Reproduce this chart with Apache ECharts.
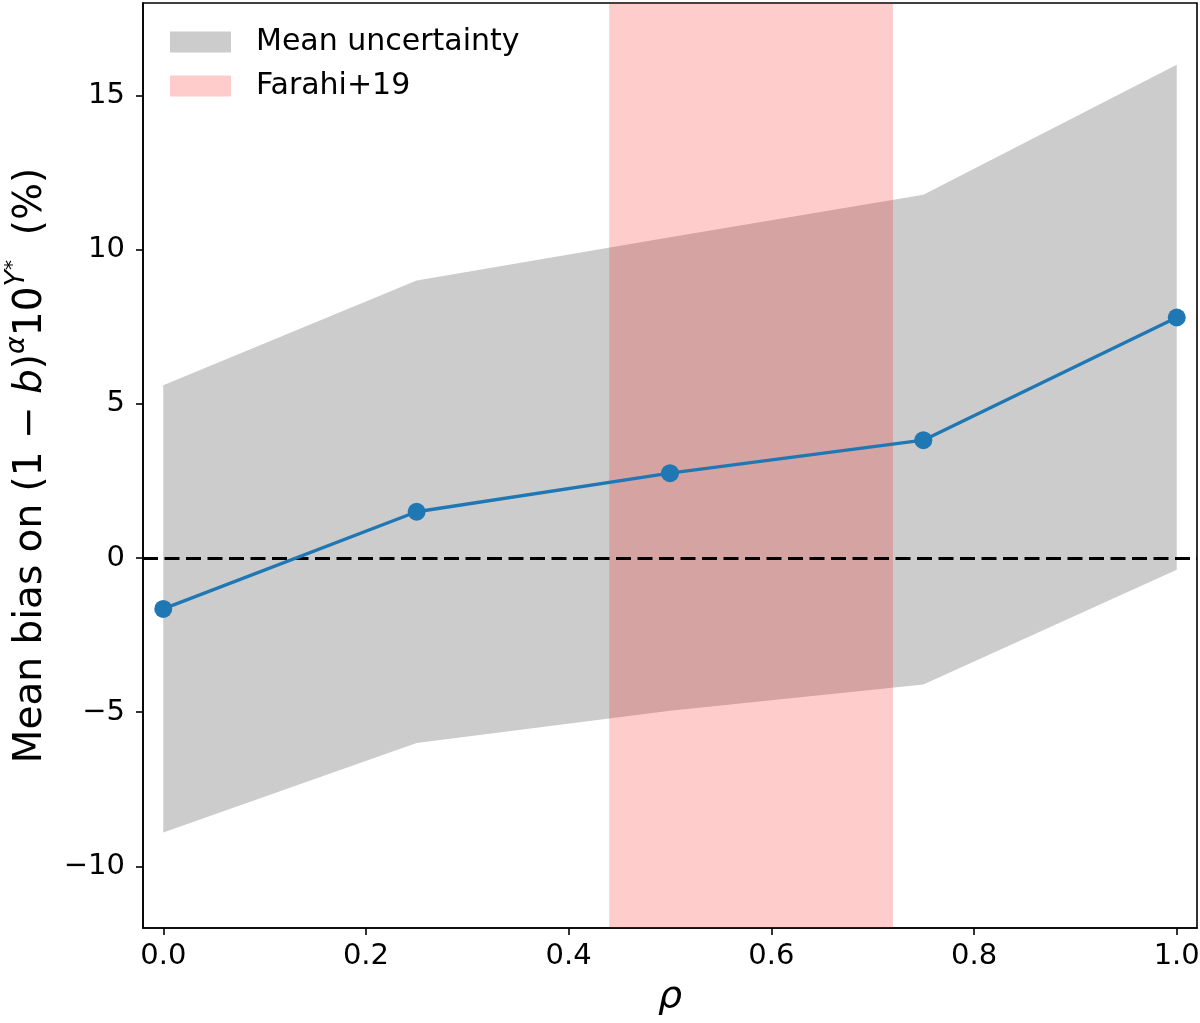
<!DOCTYPE html>
<html><head><meta charset="utf-8">
<script src="https://cdn.jsdelivr.net/npm/echarts@6/dist/echarts.min.js"></script>
<style>html,body{margin:0;padding:0;background:#fff}#c{width:1200px;height:1023px}</style>
</head><body><div id="c"></div>
<script>
const rho = [0, 0.25, 0.5, 0.75, 1.0];
const meanBias = [-1.65, 1.5, 2.75, 3.82, 7.8];
const bandLower = [-8.9, -6.0, -4.95, -4.1, -0.38];
const bandUpper = [5.6, 9.0, 10.4, 11.78, 16.0];
const farahiRange = [0.44, 0.72];
const xTicks = [0, 0.2, 0.4, 0.6, 0.8, 1.0];
const yTicks = [-10, -5, 0, 5, 10, 15];
const legendNames = ['Mean uncertainty', 'Farahi+19'];

const FONT = 'DejaVu Sans';
const chart = echarts.init(document.getElementById('c'));
const fmtY = v => v < 0 ? '\u2212' + Math.abs(v) : String(v);

const option = {
  animation: false,
  textStyle: { fontFamily: FONT },
  grid: { left: 143, right: 3, top: 3, bottom: 95, show: true, borderColor: '#000', borderWidth: 1.6, outerBoundsMode: 'none' },
  legend: {
    orient: 'vertical', left: 170, top: 27, padding: 0, itemWidth: 61, itemHeight: 21, itemGap: 14,
    textStyle: { fontSize: 30, color: '#000', fontFamily: FONT, padding: [0, 0, 0, 20] },
    data: [
      { name: legendNames[0], icon: 'rect', itemStyle: { color: '#cccccc' } },
      { name: legendNames[1], icon: 'rect', itemStyle: { color: 'rgba(255,0,0,0.2)' } }
    ],
    selectedMode: false
  },
  xAxis: {
    type: 'value', min: -0.02, max: 1.02,
    axisLine: { show: true, onZero: false, lineStyle: { color: '#000', width: 1.6 } },
    axisTick: { show: true, customValues: xTicks, length: 7, lineStyle: { color: '#000', width: 1.6 } },
    axisLabel: { customValues: xTicks, formatter: v => v.toFixed(1), fontSize: 29, color: '#000', margin: 14, fontFamily: FONT },
    splitLine: { show: false },
    name: 'ρ', nameLocation: 'middle', nameGap: 50,
    nameTextStyle: { fontSize: 38, fontStyle: 'italic', color: '#000', fontFamily: FONT }
  },
  yAxis: {
    type: 'value', min: -12, max: 18,
    axisLine: { show: true, onZero: false, lineStyle: { color: '#000', width: 1.6 } },
    axisTick: { show: true, customValues: yTicks, length: 7, lineStyle: { color: '#000', width: 1.6 } },
    axisLabel: { customValues: yTicks, formatter: fmtY, fontSize: 29, color: '#000', margin: 18, fontFamily: FONT },
    splitLine: { show: false },
    name: '{n|Mean bias on (1 \u2212 }{i|b}{n|)}{sa|α}{n|10}{sy|Y}{ss|*}{n|  (%)}',
    nameLocation: 'middle', nameGap: 93, nameRotate: 90,
    nameTextStyle: {
      color: '#000',
      rich: {
        n: { fontSize: 39, fontFamily: FONT, color: '#000', lineHeight: 47, verticalAlign: 'bottom' },
        i: { fontSize: 39, fontFamily: FONT, fontStyle: 'italic', color: '#000', lineHeight: 47, verticalAlign: 'bottom' },
        sa: { fontSize: 27, fontFamily: FONT, fontStyle: 'italic', color: '#000', lineHeight: 27, verticalAlign: 'top' },
        sy: { fontSize: 27, fontFamily: FONT, fontStyle: 'italic', color: '#000', lineHeight: 27, verticalAlign: 'top' },
        ss: { fontSize: 20, fontFamily: FONT, color: '#000', lineHeight: 20, verticalAlign: 'top' }
      }
    }
  },
  series: [
    {
      name: legendNames[0], type: 'custom', z: 1, clip: true,
      itemStyle: { color: '#cccccc' },
      data: rho.map((x, i) => [x, bandLower[i], bandUpper[i]]),
      encode: { x: 0, y: [1, 2] },
      renderItem: function (params, api) {
        if (params.dataIndex !== 0) return null;
        const pts = [];
        for (let i = 0; i < rho.length; i++) pts.push(api.coord([rho[i], bandUpper[i]]));
        for (let i = rho.length - 1; i >= 0; i--) pts.push(api.coord([rho[i], bandLower[i]]));
        return { type: 'polygon', shape: { points: pts }, style: { fill: '#cccccc' } };
      }
    },
    {
      name: legendNames[1], type: 'custom', z: 2, clip: true,
      itemStyle: { color: 'rgba(255,0,0,0.2)' },
      data: [farahiRange],
      encode: { x: [0, 1] },
      renderItem: function (params, api) {
        const a = api.coord([api.value(0), 0]);
        const b = api.coord([api.value(1), 0]);
        const cs = params.coordSys;
        return { type: 'rect', shape: { x: a[0], y: cs.y, width: b[0] - a[0], height: cs.height }, style: { fill: 'rgba(255,0,0,0.2)' } };
      },
      markLine: {
        silent: true, symbol: 'none', z: 3,
        label: { show: false },
        lineStyle: { color: '#000', width: 2.8, type: [15, 6.5] },
        data: [{ yAxis: 0 }]
      }
    },
    {
      name: 'bias', type: 'line', z: 5,
      data: rho.map((x, i) => [x, meanBias[i]]),
      symbol: 'circle', symbolSize: 18,
      lineStyle: { color: '#1f77b4', width: 3.3 },
      itemStyle: { color: '#1f77b4' }
    }
  ]
};
chart.setOption(option);
</script>
</body></html>
